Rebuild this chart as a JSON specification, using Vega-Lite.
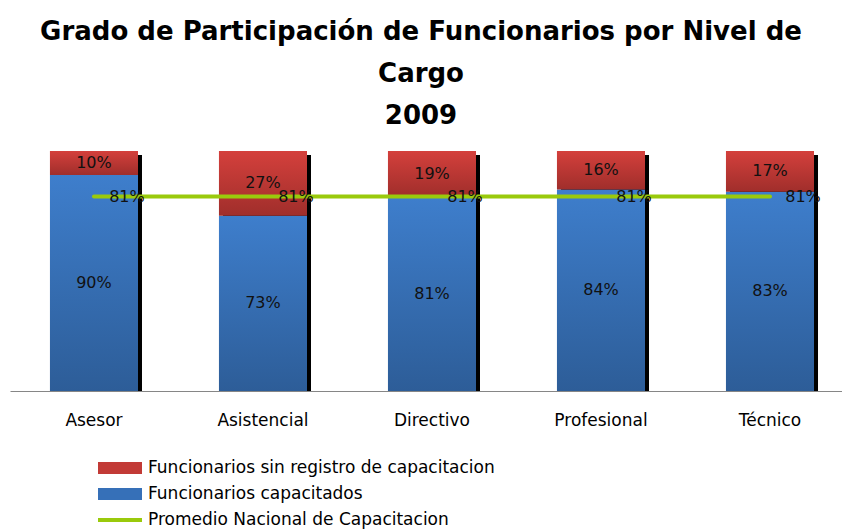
{
  "$schema": "https://vega.github.io/schema/vega-lite/v6.json",
  "width": 832,
  "height": 240,
  "autosize": "none",
  "padding": {"left": 10, "top": 151, "right": 0, "bottom": 140},
  "background": "white",
  "config": {"view": {"stroke": null}, "font": "DejaVu Sans"},
  "title": {
    "text": ["Grado de Participación de Funcionarios por Nivel de", "Cargo", "2009"],
    "font": "DejaVu Sans",
    "fontSize": 26,
    "fontWeight": "bold",
    "color": "black",
    "anchor": "middle",
    "frame": "group",
    "lineHeight": 42,
    "offset": 22,
    "dx": -5
  },
  "data": {
    "values": [
      {"cat": "Asesor", "cap": 0.90, "sin": 0.10, "prom": 0.81},
      {"cat": "Asistencial", "cap": 0.73, "sin": 0.27, "prom": 0.81},
      {"cat": "Directivo", "cap": 0.81, "sin": 0.19, "prom": 0.81},
      {"cat": "Profesional", "cap": 0.84, "sin": 0.16, "prom": 0.81},
      {"cat": "Técnico", "cap": 0.83, "sin": 0.17, "prom": 0.81}
    ]
  },
  "encoding": {
    "x": {
      "field": "cat",
      "type": "nominal",
      "sort": null,
      "scale": {"paddingInner": 0.479, "paddingOuter": 0.201, "align": 0.588, "round": false},
      "axis": {
        "title": null,
        "ticks": false,
        "domainColor": "#868686",
        "domainWidth": 1,
        "labelAngle": 0,
        "labelFont": "DejaVu Sans",
        "labelFontSize": 17,
        "labelColor": "black",
        "labelPadding": 21
      }
    }
  },
  "layer": [
    {
      "mark": {"type": "bar", "color": "black", "xOffset": 4, "x2Offset": 4, "yOffset": 4},
      "encoding": {
        "y": {"datum": 1, "type": "quantitative", "scale": {"domain": [0, 1]}, "axis": null},
        "y2": {"datum": 0}
      }
    },
    {
      "mark": {
        "type": "bar",
        "fill": {"gradient": "linear", "x1": 0, "y1": 0, "x2": 0, "y2": 1,
          "stops": [{"offset": 0, "color": "#3e7ecc"}, {"offset": 1, "color": "#2d5d98"}]}
      },
      "encoding": {
        "y": {"field": "cap", "type": "quantitative"}
      }
    },
    {
      "mark": {
        "type": "bar",
        "fill": {"gradient": "linear", "x1": 0, "y1": 0, "x2": 0, "y2": 1,
          "stops": [{"offset": 0, "color": "#d4403c"}, {"offset": 1, "color": "#a02e2b"}]}
      },
      "encoding": {
        "y": {"field": "cap", "type": "quantitative"},
        "y2": {"datum": 1}
      }
    },
    {
      "transform": [{"fold": ["cap", "sin"], "as": ["key", "value"]}],
      "mark": {"type": "text", "font": "DejaVu Sans", "fontSize": 16, "color": "#111111", "baseline": "middle"},
      "encoding": {
        "y": {"field": "value", "type": "quantitative", "stack": "zero", "bandPosition": 0.5},
        "order": {"field": "key"},
        "text": {"field": "value", "type": "quantitative", "format": ".0%"}
      }
    },
    {
      "mark": {"type": "line", "strokeWidth": 4, "strokeCap": "round"},
      "encoding": {
        "y": {"field": "prom", "type": "quantitative"},
        "stroke": {
          "datum": "Promedio Nacional de Capacitacion",
          "scale": {
            "domain": ["Funcionarios sin registro de capacitacion", "Funcionarios capacitados", "Promedio Nacional de Capacitacion"],
            "range": ["#c23a36", "#3670b8", "#9aca0c"]
          },
          "legend": {
            "orient": "none",
            "legendX": 100,
            "legendY": 307,
            "title": null,
            "symbolSize": 400,
            "symbolType": "M-2.2,-0.6H2.2V0.6H-2.2Z",
            "labelFont": "DejaVu Sans",
            "labelFontSize": 17,
            "labelColor": "black",
            "labelOffset": 18,
            "labelLimit": 600,
            "rowPadding": 8,
            "padding": 0,
            "encode": {
              "symbols": {
                "update": {
                  "fill": {"scale": "stroke", "field": "value"},
                  "strokeWidth": {"value": 0},
                  "shape": {"signal": "datum.value === 'Promedio Nacional de Capacitacion' ? 'M-2.2,-0.2H2.2V0.2H-2.2Z' : 'M-2.2,-0.6H2.2V0.6H-2.2Z'"}
                }
              }
            }
          }
        }
      }
    },
    {
      "mark": {"type": "text", "font": "DejaVu Sans", "fontSize": 16, "color": "#111111", "dx": 33, "dy": 0, "baseline": "middle"},
      "encoding": {
        "y": {"field": "prom", "type": "quantitative"},
        "text": {"field": "prom", "type": "quantitative", "format": ".0%"}
      }
    }
  ]
}
